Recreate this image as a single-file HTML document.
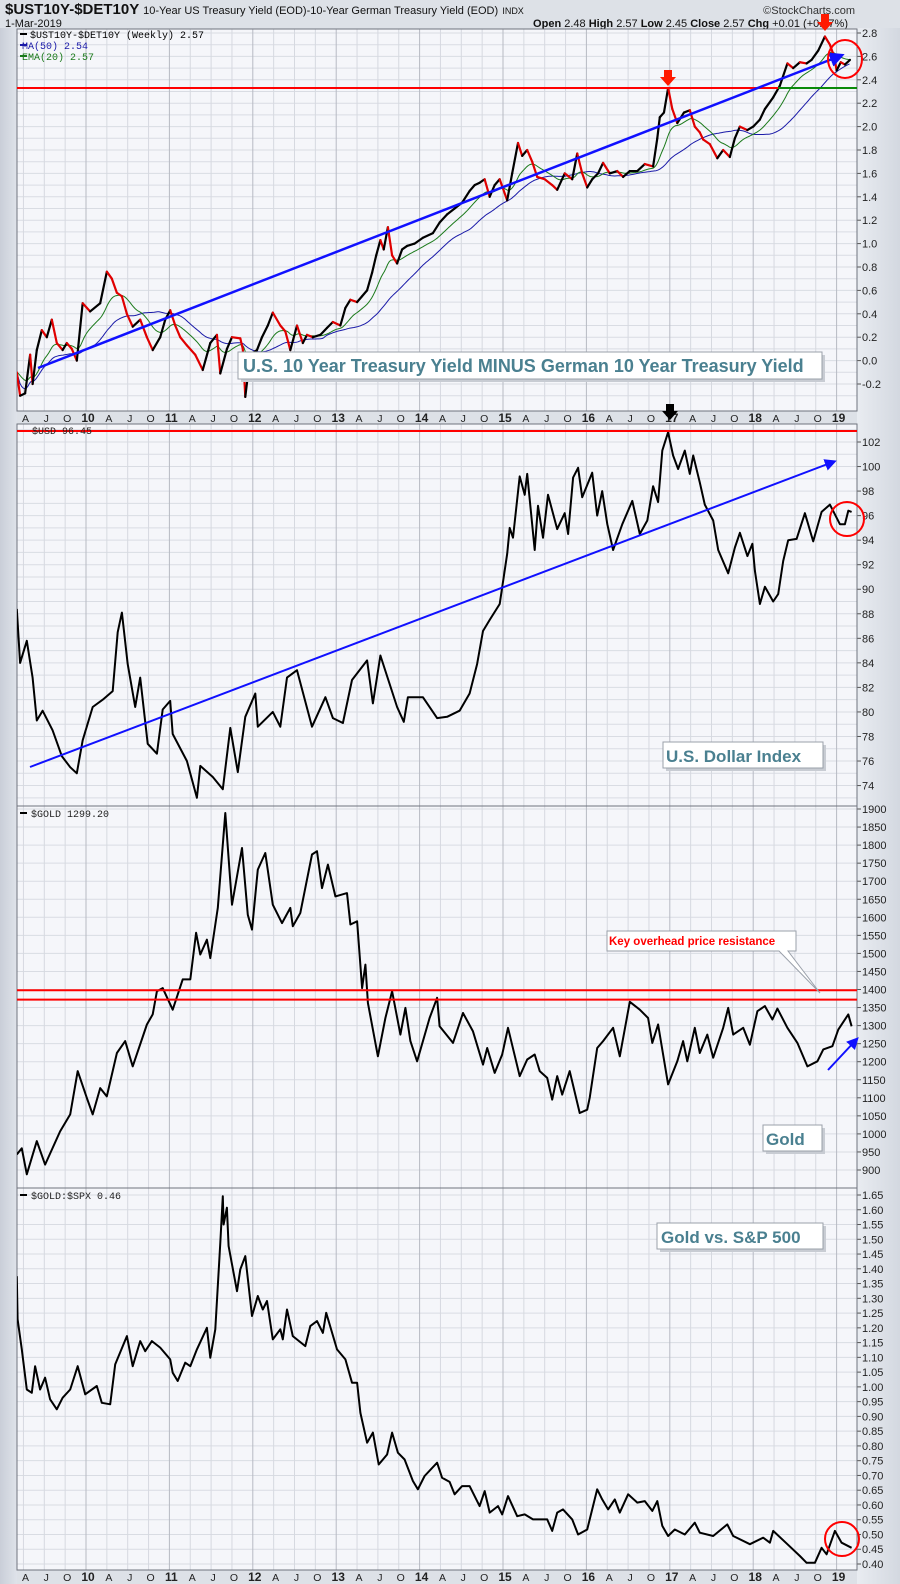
<!DOCTYPE html>
<html><head><meta charset="utf-8"><title>Treasury spread, Dollar, Gold, Gold vs S&P 500</title>
<style>
html,body{margin:0;padding:0;background:#d9dde4;}
svg{display:block;font-family:"Liberation Sans",sans-serif;}
</style></head>
<body>
<svg id="chart" width="900" height="1584" viewBox="0 0 900 1584" xmlns="http://www.w3.org/2000/svg">
  <defs>
    <linearGradient id="axisGrad" x1="0" x2="1" y1="0" y2="0">
      <stop offset="0" stop-color="#e9ecf1"/><stop offset="1" stop-color="#d3d8e0"/>
    </linearGradient>
    <linearGradient id="leftGrad" x1="0" x2="1" y1="0" y2="0">
      <stop offset="0" stop-color="#c9ced8"/><stop offset="1" stop-color="#dfe3ea"/>
    </linearGradient>
  </defs>
  <rect x="0" y="0" width="900" height="1584" fill="#dde1e7"/>
  <rect x="0" y="28" width="17" height="1556" fill="url(#leftGrad)"/>
  <rect x="857" y="28" width="43" height="1556" fill="url(#axisGrad)"/>
  <g id="header">
    <text x="5" y="14" font-size="15" font-weight="bold" fill="#111">$UST10Y-$DET10Y <tspan font-size="11" font-weight="normal">10-Year US Treasury Yield (EOD)-10-Year German Treasury Yield (EOD)</tspan> <tspan font-size="9" font-weight="normal">INDX</tspan></text>
    <text x="855" y="14" font-size="11" fill="#333" text-anchor="end">©StockCharts.com</text>
    <text x="5" y="27" font-size="11" fill="#111">1-Mar-2019</text>
    <text x="848" y="27" font-size="11" fill="#111" text-anchor="end"><tspan font-weight="bold">Open</tspan> 2.48 <tspan font-weight="bold">High</tspan> 2.57 <tspan font-weight="bold">Low</tspan> 2.45 <tspan font-weight="bold">Close</tspan> 2.57 <tspan font-weight="bold">Chg</tspan> +0.01 (+0.47%)</text>
  </g>
  <g id="panels"></g>
</svg>
<script>
// ===== Data (dates as decimal years) =====
// Panel 1: 10Y US - 10Y German spread (weekly)
const spreadDates = [2009.17,2009.21,2009.27,2009.33,2009.36,2009.41,2009.47,2009.53,2009.59,2009.65,2009.72,2009.77,2009.83,2009.89,2009.96,2010.05,2010.17,2010.25,2010.31,2010.37,2010.43,2010.49,2010.56,2010.65,2010.73,2010.80,2010.89,2010.95,2011.01,2011.07,2011.13,2011.21,2011.31,2011.40,2011.49,2011.57,2011.61,2011.69,2011.75,2011.85,2011.88,2011.91,2011.97,2012.05,2012.11,2012.18,2012.24,2012.33,2012.39,2012.45,2012.53,2012.60,2012.65,2012.72,2012.81,2012.89,2012.96,2013.05,2013.11,2013.17,2013.25,2013.31,2013.37,2013.43,2013.48,2013.53,2013.57,2013.62,2013.67,2013.73,2013.79,2013.85,2013.94,2014.04,2014.16,2014.24,2014.33,2014.42,2014.51,2014.60,2014.66,2014.72,2014.78,2014.84,2014.90,2014.96,2015.05,2015.11,2015.18,2015.23,2015.29,2015.35,2015.41,2015.50,2015.59,2015.65,2015.74,2015.83,2015.89,2015.95,2016.01,2016.07,2016.14,2016.20,2016.28,2016.37,2016.44,2016.52,2016.61,2016.70,2016.80,2016.85,2016.88,2016.93,2016.98,2017.03,2017.09,2017.17,2017.24,2017.30,2017.36,2017.40,2017.48,2017.57,2017.64,2017.72,2017.78,2017.84,2017.93,2018.00,2018.08,2018.14,2018.24,2018.32,2018.41,2018.48,2018.56,2018.64,2018.70,2018.78,2018.86,2018.92,2018.97,2019.00,2019.05,2019.10,2019.16];
const spreadValues = [-0.1,-0.3,-0.28,0.05,-0.2,0.09,0.26,0.2,0.35,0.15,0.09,0.15,0.1,0.0,0.49,0.42,0.49,0.76,0.7,0.58,0.55,0.4,0.29,0.35,0.2,0.09,0.2,0.35,0.43,0.3,0.2,0.13,0.05,-0.08,0.15,0.22,-0.11,0.1,0.2,0.19,0.1,-0.31,0.05,0.09,0.2,0.3,0.41,0.3,0.25,0.09,0.3,0.15,0.22,0.2,0.22,0.28,0.33,0.3,0.45,0.52,0.5,0.55,0.6,0.75,0.9,1.03,0.95,1.14,0.9,0.83,0.95,0.98,1.0,1.05,1.09,1.18,1.25,1.3,1.35,1.45,1.5,1.52,1.55,1.4,1.5,1.55,1.37,1.6,1.86,1.75,1.8,1.7,1.57,1.55,1.5,1.46,1.6,1.55,1.77,1.6,1.48,1.55,1.6,1.69,1.6,1.62,1.57,1.62,1.62,1.68,1.66,1.9,2.08,2.12,2.33,2.15,2.03,2.12,2.14,2.0,1.95,1.89,1.85,1.73,1.8,1.74,1.9,2.0,1.97,2.0,2.06,2.15,2.25,2.35,2.54,2.5,2.55,2.54,2.57,2.65,2.77,2.7,2.6,2.48,2.55,2.53,2.57];
const spreadTicks = [-0.2,0,0.2,0.4,0.6,0.8,1.0,1.2,1.4,1.6,1.8,2.0,2.2,2.4,2.6,2.8];
const spreadResistance = 2.33;

// Panel 2: U.S. Dollar Index
const usdDates = [2009.17,2009.21,2009.29,2009.36,2009.41,2009.48,2009.60,2009.71,2009.81,2009.89,2009.96,2010.08,2010.20,2010.32,2010.38,2010.43,2010.50,2010.59,2010.65,2010.74,2010.85,2010.92,2011.01,2011.04,2011.21,2011.33,2011.37,2011.52,2011.64,2011.73,2011.82,2011.91,2012.03,2012.06,2012.24,2012.33,2012.41,2012.53,2012.71,2012.87,2012.96,2013.08,2013.19,2013.37,2013.44,2013.53,2013.73,2013.81,2013.86,2014.04,2014.21,2014.33,2014.48,2014.60,2014.69,2014.76,2014.84,2014.96,2015.05,2015.08,2015.12,2015.20,2015.26,2015.29,2015.38,2015.42,2015.48,2015.54,2015.65,2015.74,2015.78,2015.84,2015.90,2015.95,2016.07,2016.13,2016.19,2016.25,2016.32,2016.43,2016.55,2016.64,2016.73,2016.80,2016.86,2016.91,2016.98,2017.04,2017.10,2017.18,2017.24,2017.28,2017.36,2017.42,2017.52,2017.58,2017.70,2017.78,2017.84,2017.93,2017.99,2018.02,2018.08,2018.14,2018.24,2018.30,2018.36,2018.42,2018.52,2018.62,2018.72,2018.82,2018.92,2019.04,2019.10,2019.14,2019.18];
const usdValues = [88.4,84.0,85.8,82.8,79.3,80.1,78.5,76.4,75.5,75.0,77.7,80.4,81.0,81.7,86.5,88.1,83.9,80.4,82.8,77.4,76.6,80.2,80.9,78.2,76.0,73.0,75.6,74.7,73.7,78.7,75.1,79.6,81.5,78.8,80.0,78.8,82.8,83.4,78.8,81.2,79.5,79.1,82.6,84.2,80.7,84.6,80.4,79.2,81.2,81.2,79.5,79.6,80.1,81.5,83.9,86.6,87.5,88.8,92.9,95.0,94.2,99.2,97.7,99.4,93.2,96.8,94.2,97.7,94.9,96.2,94.5,99.1,99.9,97.5,99.5,96.0,98.0,95.3,93.2,95.3,97.2,94.5,95.6,98.4,97.1,101.3,102.8,100.9,99.8,101.3,99.4,100.9,98.7,96.9,95.6,93.2,91.3,93.4,94.6,92.7,93.7,91.5,88.8,90.2,89.0,89.6,92.3,94.0,94.1,96.2,93.9,96.3,96.9,95.3,95.3,96.4,96.3];
const usdTicks = [74,76,78,80,82,84,86,88,90,92,94,96,98,100,102];
const usdTopLine = 102.9;

// Panel 3: Gold
const goldDates = [2009.17,2009.23,2009.29,2009.41,2009.51,2009.60,2009.69,2009.81,2009.90,2010.01,2010.08,2010.17,2010.25,2010.37,2010.47,2010.56,2010.73,2010.80,2010.85,2010.92,2011.04,2011.16,2011.25,2011.32,2011.37,2011.45,2011.49,2011.58,2011.67,2011.75,2011.87,2011.94,2011.99,2012.06,2012.15,2012.24,2012.35,2012.45,2012.48,2012.57,2012.71,2012.77,2012.83,2012.90,2012.99,2013.13,2013.17,2013.25,2013.31,2013.35,2013.38,2013.50,2013.59,2013.67,2013.77,2013.83,2013.89,2013.97,2014.12,2014.21,2014.24,2014.40,2014.52,2014.64,2014.76,2014.81,2014.90,2014.99,2015.06,2015.20,2015.29,2015.38,2015.44,2015.53,2015.59,2015.65,2015.71,2015.80,2015.92,2016.01,2016.04,2016.13,2016.20,2016.32,2016.40,2016.52,2016.64,2016.74,2016.79,2016.86,2016.98,2017.09,2017.16,2017.21,2017.30,2017.36,2017.45,2017.52,2017.64,2017.70,2017.76,2017.88,2017.96,2018.05,2018.14,2018.23,2018.29,2018.41,2018.53,2018.65,2018.77,2018.84,2018.95,2019.02,2019.14,2019.18];
const goldValues = [943,960,888,980,915,961,1007,1054,1174,1100,1054,1127,1104,1224,1257,1187,1303,1331,1395,1404,1344,1428,1428,1557,1497,1538,1487,1626,1889,1635,1792,1607,1566,1732,1778,1635,1584,1626,1575,1612,1774,1783,1681,1746,1658,1667,1580,1589,1404,1469,1363,1215,1321,1395,1275,1349,1257,1201,1321,1377,1298,1252,1335,1284,1192,1238,1169,1220,1294,1160,1206,1220,1174,1155,1095,1160,1109,1174,1058,1067,1100,1238,1257,1294,1215,1366,1344,1321,1252,1303,1137,1201,1257,1201,1294,1224,1275,1211,1294,1349,1275,1294,1247,1340,1354,1317,1347,1294,1252,1187,1201,1234,1243,1289,1331,1298];
const goldTicks = [900,950,1000,1050,1100,1150,1200,1250,1300,1350,1400,1450,1500,1550,1600,1650,1700,1750,1800,1850,1900];
const goldResistanceHigh = 1398;
const goldResistanceLow = 1372;

// Panel 4: Gold / S&P 500 ratio
const ratioDates = [2009.17,2009.18,2009.23,2009.29,2009.35,2009.39,2009.45,2009.51,2009.57,2009.65,2009.72,2009.81,2009.90,2009.99,2010.13,2010.19,2010.29,2010.35,2010.49,2010.56,2010.65,2010.71,2010.79,2010.89,2011.01,2011.04,2011.10,2011.19,2011.25,2011.33,2011.45,2011.49,2011.55,2011.61,2011.64,2011.65,2011.69,2011.71,2011.81,2011.85,2011.91,2011.99,2012.06,2012.12,2012.17,2012.24,2012.33,2012.36,2012.41,2012.48,2012.63,2012.69,2012.77,2012.84,2012.88,2013.01,2013.11,2013.19,2013.25,2013.29,2013.37,2013.44,2013.51,2013.61,2013.67,2013.74,2013.82,2013.92,2013.98,2014.06,2014.21,2014.27,2014.36,2014.42,2014.51,2014.60,2014.72,2014.78,2014.84,2014.94,2014.99,2015.06,2015.17,2015.26,2015.36,2015.53,2015.59,2015.65,2015.72,2015.83,2015.90,2016.01,2016.13,2016.19,2016.26,2016.34,2016.40,2016.50,2016.61,2016.70,2016.79,2016.85,2016.91,2016.98,2017.06,2017.18,2017.30,2017.36,2017.52,2017.69,2017.76,2017.96,2018.12,2018.20,2018.24,2018.41,2018.56,2018.64,2018.74,2018.82,2018.88,2018.98,2019.06,2019.18];
const ratioValues = [1.375,1.229,1.127,0.991,0.98,1.07,0.991,1.031,0.958,0.924,0.963,0.991,1.07,0.975,1.003,0.946,0.941,1.076,1.172,1.07,1.155,1.121,1.155,1.133,1.093,1.048,1.02,1.082,1.07,1.127,1.2,1.099,1.195,1.488,1.646,1.55,1.607,1.477,1.324,1.398,1.443,1.24,1.308,1.262,1.291,1.161,1.195,1.161,1.262,1.172,1.138,1.206,1.223,1.183,1.251,1.127,1.093,1.014,1.014,0.912,0.811,0.845,0.737,0.771,0.845,0.777,0.754,0.681,0.653,0.698,0.743,0.692,0.678,0.636,0.664,0.664,0.596,0.647,0.574,0.596,0.568,0.63,0.562,0.568,0.551,0.551,0.512,0.574,0.585,0.551,0.5,0.517,0.653,0.619,0.585,0.619,0.574,0.636,0.608,0.613,0.58,0.613,0.529,0.495,0.517,0.5,0.54,0.506,0.495,0.534,0.495,0.467,0.489,0.472,0.512,0.467,0.427,0.404,0.404,0.455,0.433,0.512,0.472,0.455];
const ratioTicks = [0.40,0.45,0.50,0.55,0.60,0.65,0.70,0.75,0.80,0.85,0.90,0.95,1.00,1.05,1.10,1.15,1.20,1.25,1.30,1.35,1.40,1.45,1.50,1.55,1.60,1.65];

// ===== Layout =====
const NS = 'http://www.w3.org/2000/svg';
const PL = 17, PR = 857;
const X = t => 86 + (t - 2010) * 83.4;
const root = document.getElementById('panels');

function mk(tag, attrs, parent) {
  const e = document.createElementNS(NS, tag);
  for (const k in attrs) e.setAttribute(k, attrs[k]);
  (parent || root).appendChild(e);
  return e;
}

const panels = [
  {key:'spread', top:29, bottom:411, v0:2.8, y0:33, ppu:117, grid:0.1, ticks:spreadTicks, fmt:v=>v.toFixed(1), gmin:-0.3, gmax:2.9},
  {key:'usd', top:424, bottom:806, v0:102, y0:442, ppu:12.27, grid:1, ticks:usdTicks, fmt:v=>String(v), gmin:72, gmax:104},
  {key:'gold', top:806, bottom:1188, v0:1900, y0:809, ppu:0.361, grid:50, ticks:goldTicks, fmt:v=>String(v), gmin:850, gmax:1950},
  {key:'ratio', top:1188, bottom:1570, v0:1.65, y0:1195, ppu:295.2, grid:0.05, ticks:ratioTicks, fmt:v=>v.toFixed(2), gmin:0.35, gmax:1.7}
];
panels.forEach(p => { p.Y = v => p.y0 + (p.v0 - v) * p.ppu; });

function drawPanel(p) {
  const g = mk('g', {});
  
  
  const bg = mk('rect', {x:PL, y:p.top, width:PR-PL, height:p.bottom-p.top, fill:'#f5f6fa'}, g);
  
  
  const clipId = 'clip-' + p.key;
  const cp = mk('clipPath', {id:clipId}, g);
  mk('rect', {x:PL, y:p.top, width:PR-PL, height:p.bottom-p.top}, cp);
  const grid = mk('g', {'clip-path':'url(#'+clipId+')'}, g);
  
  
  const n = Math.round((p.gmax - p.gmin) / p.grid);
  for (let i = 0; i <= n; i++) {
    const v = p.gmin + i * p.grid;
    const y = p.Y(v);
    if (y < p.top || y > p.bottom) continue;
    mk('line', {x1:PL, x2:PR, y1:y, y2:y, stroke:'#d9dce3', 'stroke-width':1}, grid);
  }
  for (let yr = 2009; yr <= 2019; yr++) for (let q = 0; q < 4; q++) {
    const x = X(yr + q * 0.25);
    if (x < PL || x > PR) continue;
    mk('line', {x1:x, x2:x, y1:p.top, y2:p.bottom, stroke: q===0 ? '#b7bac3' : '#d6d9e0', 'stroke-width':1}, grid);
  }
  // right axis ticks
  const ax = mk('g', {}, g);
  
  
  p.ticks.forEach(v => {
    const y = p.Y(v);
    mk('line', {x1:PR, x2:PR+4, y1:y, y2:y, stroke:'#555'}, ax);
    const t = mk('text', {x:PR+5, y:y+4, 'font-size':11, fill:'#222'}, ax);
    t.textContent = p.fmt(v);
  });
  mk('line', {x1:PR, x2:PR, y1:p.top, y2:p.bottom, stroke:'#8a8e98', 'stroke-dasharray':'1,1'}, ax);
  const frame = mk('rect', {x:PL, y:p.top, width:PR-PL, height:p.bottom-p.top, fill:'none', stroke:'#70747e', 'stroke-width':1}, g);
  
  
  p.g = g;
  p.plot = mk('g', {'clip-path':'url(#'+clipId+')'}, g);
}
panels.forEach(drawPanel);

function xAxis(y, name) {
  const g = mk('g', {});
  
  
  const L = ['', 'A', 'J', 'O'];
  for (let yr = 2009; yr <= 2019; yr++) for (let q = 0; q < 4; q++) {
    const x = X(yr + q * 0.25);
    if (x < PL + 3 || x > PR) continue;
    const t = mk('text', {x:x+2, y:y, 'font-size':q===0?12:10.5, 'font-weight':q===0?'bold':'normal', 'text-anchor':'middle', fill:'#222'}, g);
    t.textContent = q === 0 ? String(yr % 100).padStart(2, '0') : L[q];
  }
}
xAxis(422, 'x-axis-top');
xAxis(1581, 'x-axis-bottom');

function line(p, dates, vals, color, width, name) {
  let d = '';
  dates.forEach((t, i) => { d += (i ? 'L' : 'M') + X(t).toFixed(1) + ',' + p.Y(vals[i]).toFixed(1); });
  const e = mk('path', {d:d, fill:'none', stroke:color, 'stroke-width':width, 'stroke-linejoin':'round'}, p.plot);
  
  
  return e;
}
function hline(p, v, color, name, x1) {
  const e = mk('line', {x1:x1 || PL, x2:PR, y1:p.Y(v), y2:p.Y(v), stroke:color, 'stroke-width':2}, p.g);
  
  
}

// ---- Panel 1 ----
const P1 = panels[0];
// moving averages computed from weekly-interpolated spread
(function(){
  const wk = [], wv = [];
  let j = 0;
  for (let t = spreadDates[0]; t <= spreadDates[spreadDates.length-1] + 1e-9; t += 7/365.25) {
    while (j < spreadDates.length - 2 && spreadDates[j+1] < t) j++;
    const f = (t - spreadDates[j]) / (spreadDates[j+1] - spreadDates[j]);
    wk.push(t); wv.push(spreadValues[j] + Math.max(0, Math.min(1, f)) * (spreadValues[j+1] - spreadValues[j]));
  }
  const ma = [], ema = [];
  let e = wv[0]; const k = 2 / 21;
  wv.forEach((v, i) => {
    const s = wv.slice(Math.max(0, i - 49), i + 1);
    ma.push(s.reduce((a, b) => a + b, 0) / s.length);
    e = i === 0 ? v : v * k + e * (1 - k);
    ema.push(e);
  });
  line(P1, wk, ma, '#1a1aa8', 1, 'ma50-line');
  line(P1, wk, ema, '#1b7a1b', 1, 'ema20-line');
})();
for (let i = 1; i < spreadDates.length; i++) {
  const s = mk('line', {x1:X(spreadDates[i-1]), y1:P1.Y(spreadValues[i-1]), x2:X(spreadDates[i]), y2:P1.Y(spreadValues[i]),
    stroke: spreadValues[i] < spreadValues[i-1] ? '#e00000' : '#000', 'stroke-width':2.2, 'stroke-linecap':'round'}, P1.plot);
  
  
}
hline(P1, spreadResistance, '#ff0000', 'spread-resistance-line');
hline(P1, spreadResistance, '#0a8a0a', 'spread-support-line', 778);

// ---- Panel 2 ----
const P2 = panels[1];
hline(P2, usdTopLine, '#ff0000', 'usd-top-line');
line(P2, usdDates, usdValues, '#000', 2, 'usd-line');
// ---- Panel 3 ----
const P3 = panels[2];
hline(P3, goldResistanceHigh, '#ff0000', 'gold-resistance-high');
hline(P3, goldResistanceLow, '#ff0000', 'gold-resistance-low');
line(P3, goldDates, goldValues, '#000', 2, 'gold-line');
// ---- Panel 4 ----
const P4 = panels[3];
line(P4, ratioDates, ratioValues, '#000', 2, 'gold-spx-line');
</script>
<svg width="900" height="1584" viewBox="0 0 900 1584" style="position:absolute;left:0;top:0" xmlns="http://www.w3.org/2000/svg" font-family="Liberation Sans, sans-serif">
  <defs>
    <marker id="blueHead" markerWidth="6" markerHeight="6" refX="4" refY="3" orient="auto" markerUnits="strokeWidth">
      <path d="M0,0 L6,3 L0,6 z" fill="#1010ff"/>
    </marker>
  </defs>
  <!-- legends -->
  <g font-family="Liberation Mono, monospace" font-size="10">
    <rect x="20" y="33" width="7" height="2" fill="#000"/>
    <text x="30" y="38" fill="#000">$UST10Y-$DET10Y (Weekly) 2.57</text>
    <rect x="20" y="44" width="7" height="2" fill="#1a1aa8"/>
    <text x="22" y="49" fill="#1a1aa8">MA(50) 2.54</text>
    <rect x="20" y="55" width="7" height="2" fill="#1b7a1b"/>
    <text x="22" y="60" fill="#1b7a1b">EMA(20) 2.57</text>
  </g>
  <text x="32" y="434" font-family="Liberation Mono, monospace" font-size="10" fill="#222">$USD 96.45</text>
  <g><rect x="20" y="812" width="7" height="2" fill="#000"/><text x="31" y="817" font-family="Liberation Mono, monospace" font-size="10" fill="#222">$GOLD 1299.20</text></g>
  <g><rect x="20" y="1194" width="7" height="2" fill="#000"/><text x="31" y="1199" font-family="Liberation Mono, monospace" font-size="10" fill="#222">$GOLD:$SPX 0.46</text></g>

  <!-- trendlines -->
  <line x1="38" y1="368" x2="840" y2="56" stroke="#1010ff" stroke-width="2.5" marker-end="url(#blueHead)"/>
  <line x1="30" y1="767" x2="833" y2="462" stroke="#1010ff" stroke-width="2" marker-end="url(#blueHead)"/>
  <line x1="828" y1="1070" x2="856" y2="1040" stroke="#1010ff" stroke-width="2" marker-end="url(#blueHead)"/>

  <!-- circles -->
  <ellipse cx="845" cy="59" rx="17" ry="19" fill="none" stroke="#ff0000" stroke-width="2"/>
  <circle cx="847" cy="519" r="17" fill="none" stroke="#ff0000" stroke-width="2"/>
  <circle cx="842" cy="1539" r="17" fill="none" stroke="#ff0000" stroke-width="2"/>

  <!-- arrows -->
  <path d="M664,70 h8 v7 h4 l-8,9 l-8,-9 h4 z" fill="#ff1a00"/>
  <path d="M821,14 h8 v8 h4 l-8,9 l-8,-9 h4 z" fill="#ff1a00"/>
  <path d="M666,404 h8 v7 h4 l-8,9 l-8,-9 h4 z" fill="#000"/>

  <!-- callouts -->
  <g>
    <rect x="241" y="355" width="584" height="27" fill="#c8ccd3"/>
    <rect x="238" y="352" width="584" height="27" fill="#fff" stroke="#9aa0aa"/>
    <text x="243" y="372" font-size="18" font-weight="bold" fill="#4a8090">U.S. 10 Year Treasury Yield MINUS German 10 Year Treasury Yield</text>
  </g>
  <g>
    <rect x="666" y="745" width="160" height="26" fill="#c8ccd3"/>
    <rect x="663" y="742" width="160" height="26" fill="#fff" stroke="#9aa0aa"/>
    <text x="666" y="762" font-size="17" font-weight="bold" fill="#4a8090">U.S. Dollar Index</text>
  </g>
  <g>
    <rect x="766" y="1128" width="59" height="26" fill="#c8ccd3"/>
    <rect x="763" y="1125" width="59" height="26" fill="#fff" stroke="#9aa0aa"/>
    <text x="766" y="1145" font-size="17" font-weight="bold" fill="#4a8090">Gold</text>
  </g>
  <g>
    <rect x="660" y="1226" width="166" height="26" fill="#c8ccd3"/>
    <rect x="657" y="1223" width="166" height="26" fill="#fff" stroke="#9aa0aa"/>
    <text x="661" y="1243" font-size="17" font-weight="bold" fill="#4a8090">Gold vs. S&amp;P 500</text>
  </g>
  <g>
    <path d="M607,931 H796 V951 H788 L820,993 L779,951 H607 Z" fill="#fff" stroke="#9aa0aa"/>
    <text x="609" y="945" font-size="11.5" font-weight="bold" fill="#ff0000">Key overhead price resistance</text>
  </g>
</svg>
</body></html>
